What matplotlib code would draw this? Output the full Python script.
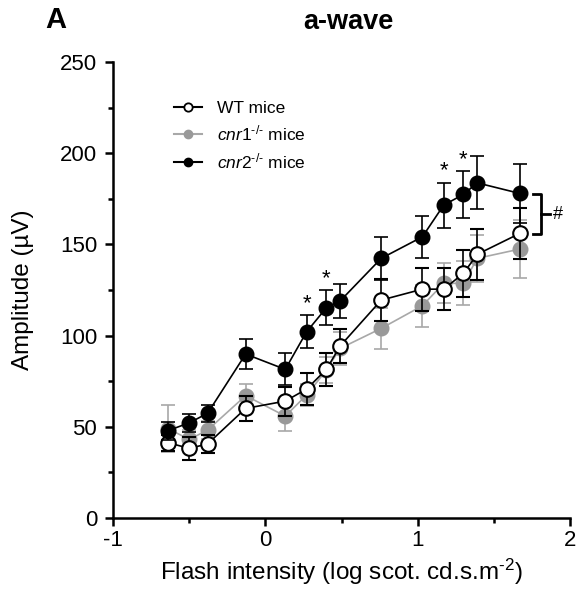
import numpy as np
import matplotlib.pyplot as plt
from matplotlib.lines import Line2D

plt.rcParams['font.family'] = ['Liberation Sans', 'DejaVu Sans']
plt.rcParams['axes.unicode_minus'] = False
plt.rcParams['mathtext.fontset'] = 'custom'
plt.rcParams['mathtext.rm'] = 'Liberation Sans'
plt.rcParams['mathtext.it'] = 'Liberation Sans:italic'

# flash intensity (log scot. cd.s.m-2)
x = [-0.64, -0.50, -0.38, -0.13, 0.13, 0.27, 0.40, 0.49, 0.76, 1.03, 1.17, 1.30, 1.39, 1.67]

wt_mean = [41.3, 38.2, 40.6, 60.1, 64.1, 70.7, 81.5, 94.3, 119.5, 125.5, 125.5, 134.2, 144.6, 156.1]
wt_err = [4.4, 6.4, 5.1, 7.0, 8.0, 8.6, 9.1, 9.1, 11.5, 11.7, 11.5, 12.8, 13.9, 14.0]

cnr1_mean = [49.0, 43.1, 48.2, 67.1, 55.9, 67.4, 81.1, 93.0, 104.0, 116.4, 128.7, 128.7, 142.4, 147.5]
cnr1_err = [12.8, 5.0, 5.0, 6.2, 8.2, 6.0, 7.0, 9.0, 11.3, 11.5, 11.0, 12.0, 13.0, 16.0]

cnr2_mean = [47.9, 52.2, 57.4, 89.9, 81.5, 102.1, 115.3, 119.0, 142.4, 154.2, 171.6, 177.5, 183.8, 178.0]
cnr2_err = [5.0, 5.1, 4.6, 8.0, 8.8, 9.1, 9.5, 9.3, 11.9, 11.5, 12.4, 13.0, 14.6, 16.0]

star_idx = [5, 6, 10, 11]

fig = plt.figure(figsize=(5.8, 5.92), dpi=100)
ax = fig.add_axes([0.195, 0.125, 0.788, 0.77])

ax.errorbar(x, cnr1_mean, yerr=cnr1_err, color='#a8a8a8', ecolor='#a8a8a8', lw=1.2,
            marker='o', ms=10.5, mfc='#999999', mec='#999999', capsize=5, elinewidth=1.2,
            capthick=1.2, zorder=2)
ax.errorbar(x, wt_mean, yerr=wt_err, color='black', lw=1.2,
            marker='o', ms=10.5, mfc='white', mec='black', mew=1.5, capsize=5,
            elinewidth=1.2, capthick=1.2, zorder=3)
ax.errorbar(x, cnr2_mean, yerr=cnr2_err, color='black', lw=1.2,
            marker='o', ms=10.5, mfc='black', mec='black', capsize=5,
            elinewidth=1.2, capthick=1.2, zorder=4)

for i in star_idx:
    ax.text(x[i], cnr2_mean[i] + cnr2_err[i] + 0.5, '*', ha='center', va='bottom',
            fontsize=16)

# bracket between cnr2 and WT at the last point
ytop, ybot = cnr2_mean[-1] - 0.5, wt_mean[-1] - 0.5
bx = 1.81
ax.plot([bx - 0.052, bx, bx, bx - 0.052], [ytop, ytop, ybot, ybot], color='black', lw=2,
        clip_on=False)
ax.plot([bx, bx + 0.06], [(ytop + ybot) / 2] * 2, color='black', lw=2, clip_on=False)
ax.text(bx + 0.075, (ytop + ybot) / 2, '#', ha='left', va='center', fontsize=13)

ax.set_xlim(-1, 2)
ax.set_ylim(0, 250)
ax.set_xticks([-1, 0, 1, 2])
ax.set_xticks([-0.5, 0.5, 1.5], minor=True)
ax.set_yticks([0, 50, 100, 150, 200, 250])
ax.set_yticks([25, 75, 125, 175, 225], minor=True)
ax.tick_params(labelsize=16, width=1.8, length=5.5, direction='out')
ax.tick_params(axis='y', pad=6)
ax.tick_params(axis='x', pad=3)
ax.tick_params(which='minor', width=1.8, length=3.5, direction='out')
for s in ['top', 'right']:
    ax.spines[s].set_visible(False)
for s in ['left', 'bottom']:
    ax.spines[s].set_linewidth(1.8)

ax.set_xlabel('Flash intensity (log scot. cd.s.m$^{\\text{-2}}$)', fontsize=17.5)
ax.set_ylabel('Amplitude (µV)', fontsize=17.5)
ax.yaxis.set_label_coords(-0.173, 0.5)
ax.xaxis.set_label_coords(0.5, -0.085)

handles = [
    Line2D([], [], color='black', lw=1.5, marker='o', ms=6, mfc='white', mec='black', mew=1.3),
    Line2D([], [], color='#a8a8a8', lw=1.5, marker='o', ms=6, mfc='#999999', mec='#999999'),
    Line2D([], [], color='black', lw=1.5, marker='o', ms=6, mfc='black', mec='black'),
]
labels = ['WT mice', '$\\mathit{cnr1}^{\\text{-/-}}$ mice',
          '$\\mathit{cnr2}^{\\text{-/-}}$ mice']
ax.legend(handles, labels, loc='upper left', bbox_to_anchor=(0.10, 0.95), frameon=False,
          fontsize=12.5, handlelength=1.6, handletextpad=0.85, labelspacing=0.45)

fig.text(0.078, 0.966, 'A', fontsize=21, fontweight='bold', va='center')
fig.text(0.6, 0.963, 'a-wave', fontsize=19.5, fontweight='bold', va='center', ha='center')

fig.savefig('out.png', dpi=100)
